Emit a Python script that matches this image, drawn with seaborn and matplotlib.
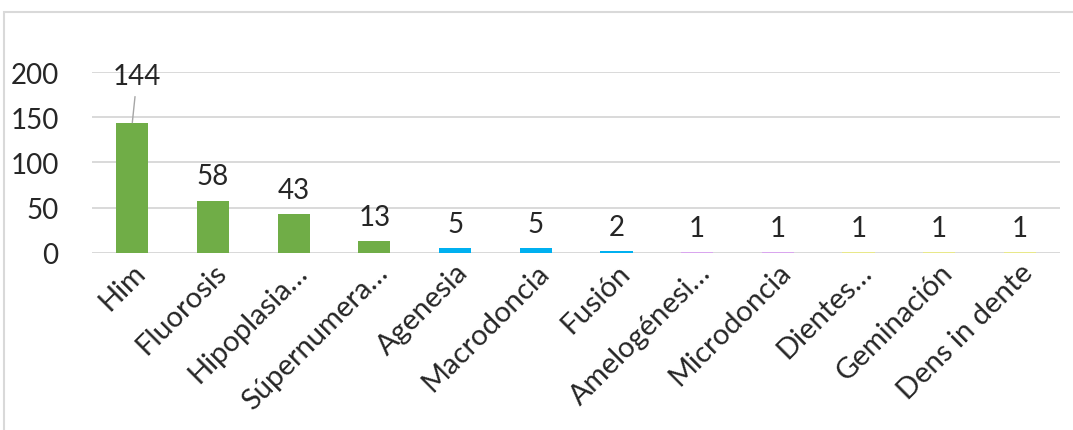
import matplotlib
matplotlib.use('Agg')
import matplotlib.pyplot as plt
import seaborn as sns
import pandas as pd
from matplotlib.patches import Rectangle

categorias = ['Him', 'Fluorosis', 'Hipoplasia…', 'Súpernumera…', 'Agenesia', 'Macrodoncia',
              'Fusión', 'Amelogénesi…', 'Microdoncia', 'Dientes…', 'Geminación', 'Dens in dente']
casos = [144, 58, 43, 13, 5, 5, 2, 1, 1, 1, 1, 1]
colores = ['#70AD47', '#70AD47', '#70AD47', '#70AD47', '#00B0F0', '#00B0F0', '#00B0F0',
           '#D9A6EE', '#D9A6EE', '#E8E88A', '#E8E88A', '#E8E88A']

df = pd.DataFrame({'cat': categorias, 'n': casos})

sns.set_style('white')
plt.rcParams['font.family'] = ['Lato', 'DejaVu Sans']

fig = plt.figure(figsize=(10.73, 4.31), dpi=100)
ax = fig.add_axes([0.0857, 0.4107, 0.9023, 0.4199])

sns.barplot(data=df, x='cat', y='n', hue='cat', palette=colores, legend=False,
            width=0.4, ax=ax, saturation=1, linewidth=0)

ax.set_ylim(0, 200)
ax.set_yticks([0, 50, 100, 150, 200])
ax.set_xlim(-0.5, len(categorias) - 0.5)
ax.yaxis.grid(True, color='#D9D9D9', linewidth=1.4)
ax.set_axisbelow(True)
for s in ax.spines.values():
    s.set_visible(False)
ax.axhline(0, color='#D9D9D9', linewidth=1.4, zorder=0.5)
ax.set_xlabel('')
ax.set_ylabel('')
ax.tick_params(axis='y', labelsize=20, length=0, pad=24)
ax.tick_params(axis='x', labelsize=21, length=0, pad=4)
plt.setp(ax.get_xticklabels(), rotation=45, ha='right', rotation_mode='anchor')

# etiquetas de datos
for i, v in enumerate(casos):
    if i == 0:
        ax.annotate(str(v), xy=(i, v), xytext=(i + 0.06, 181), ha='center', va='bottom',
                    fontsize=20, annotation_clip=False,
                    arrowprops=dict(arrowstyle='-', color='#A6A6A6', lw=1, shrinkA=3, shrinkB=0))
    else:
        ax.annotate(str(v), xy=(i, v), xytext=(0, 8), textcoords='offset points',
                    ha='center', va='bottom', fontsize=20, annotation_clip=False)

# borde del área del gráfico
fig.patches.append(Rectangle((4 / 1073, -0.01), 1.02, 1 - 13 / 431 + 0.01, transform=fig.transFigure,
                             fill=False, edgecolor='#D9D9D9', linewidth=1.5))

fig.savefig('out.png', dpi=100)
